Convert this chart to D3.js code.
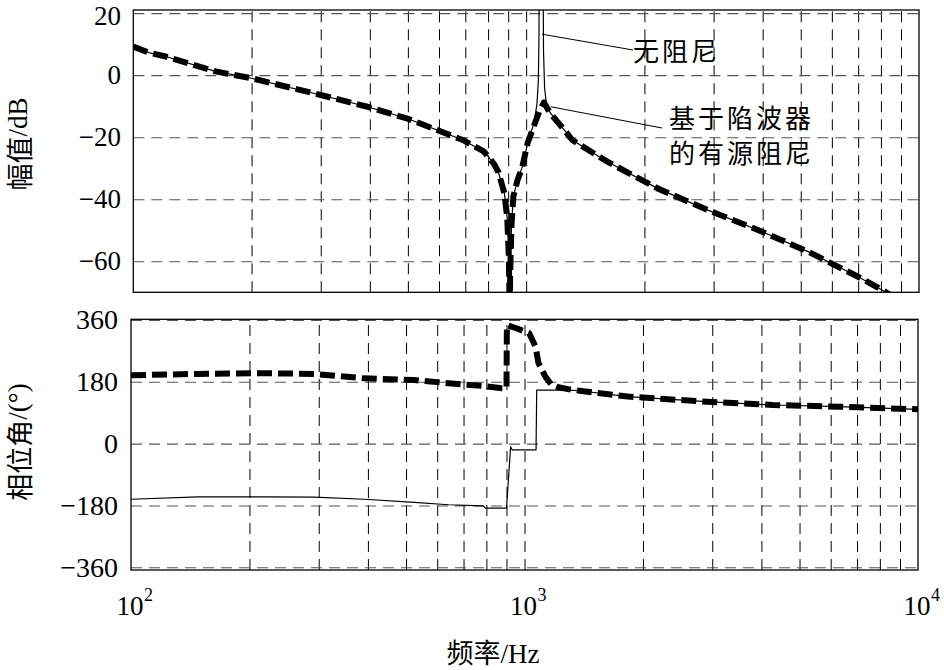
<!DOCTYPE html>
<html>
<head>
<meta charset="utf-8">
<script src="https://cdn.jsdelivr.net/npm/d3@7"></script>
<style>
  html, body { margin: 0; padding: 0; background: #fff; }
  svg { display: block; }
</style>
</head>
<body>
<svg id="chart" width="944" height="670"></svg>
<script>
// ---------------- DATA ----------------
// Magnitude, active damping based on notch filter (thick dashed)
const magDampedFreq = [100, 110, 121, 162, 200, 300, 392, 496, 591, 690, 780, 800, 830, 850, 880, 895, 903, 908, 912, 918, 928, 950, 978, 1009, 1045, 1084, 1110, 1150, 1172, 1270, 1310, 1610, 2160, 2900, 3890, 5220, 7000, 8200, 8600];
const magDampedDB   = [9.2, 7.2, 6.0, 1.2, -1.0, -6.4, -10.1, -13.9, -17.6, -20.9, -24.6, -26.2, -28.8, -31.3, -38, -46, -58, -75, -60, -48, -39, -34, -29.5, -21.8, -16.6, -11.2, -8.8, -12.2, -13.4, -18.7, -20.9, -27.9, -36.5, -43.5, -49.9, -56.9, -65, -69.8, -71.5];
// Magnitude, undamped (thin solid)
const magUndampedFreq = [100, 110, 121, 162, 200, 300, 392, 496, 591, 690, 780, 800, 830, 850, 880, 895, 903, 908, 912, 918, 928, 950, 978, 1009, 1045, 1065, 1074, 1078, 1080, 1104, 1107, 1114, 1125, 1150, 1172, 1270, 1310, 1610, 2160, 2900, 3890, 5220, 7000, 8200, 8600];
const magUndampedDB   = [9.2, 7.2, 6.0, 1.2, -1.0, -6.4, -10.1, -13.9, -17.6, -20.9, -24.6, -26.2, -28.8, -31.3, -38, -46, -58, -75, -60, -48, -39, -34, -29.5, -21.8, -15.8, -9.5, -2, 12, 40, 40, 8, -4, -9, -12, -13.4, -18.7, -20.9, -27.9, -36.5, -43.5, -49.9, -56.9, -65, -69.8, -71.5];

// Phase, active damping (thick dashed)
const phDampedFreq = [100, 148, 218, 292, 392, 525, 641, 780, 876, 900, 902, 953, 1027, 1067, 1085, 1130, 1170, 1220, 1300, 1380, 1830, 2900, 4270, 6300, 10000];
const phDampedDeg  = [199, 203, 205, 203, 190, 185, 176, 168, 161, 161, 345, 336, 322, 282, 235, 195, 172, 164, 158, 154, 137, 122, 112.5, 107.6, 100];
// Phase, undamped (thin solid)
const phUndampedFreq = [100, 148, 218, 292, 392, 525, 641, 785, 795, 900, 922, 930, 1070, 1074, 1200, 1300, 1380, 1830, 2900, 4270, 6300, 10000];
const phUndampedDeg  = [-162, -155, -155, -156, -162, -171, -178, -181, -188, -188, -9, -18, -18, 156, 156, 156, 154, 137, 122, 112.5, 107.6, 100];

// Tick values / labels
const magTicks = [20, 0, -20, -40, -60];
const phTicks = [360, 180, 0, -180, -360];
const decadeTicks = [100, 1000, 10000];
const decadeExp = ["2", "3", "4"];
const minorFreqs = [200,300,400,500,600,700,800,900,1000,2000,3000,4000,5000,6000,7000,8000,9000];

const labelMag = ["幅值", "/dB"];
const labelPh = ["相位角", "/(°)"];
const labelX = ["频率", "/Hz"];
const noteUndamped = "无阻尼";
const noteDamped = ["基于陷波器", "的有源阻尼"];

// ---------------- LAYOUT ----------------
const svg = d3.select("#chart");
const serif = "'Liberation Serif', 'Times New Roman', serif";
const cjk = "'Noto Sans CJK SC', sans-serif";

const boxTop = { x0: 133.3, x1: 919, y0: 10, y1: 292.3 };
const boxBot = { x0: 131, x1: 918, y0: 319.3, y1: 570 };

const xTop = d3.scaleLog().domain([100, 10000]).range([boxTop.x0, boxTop.x1]);
const xBot = d3.scaleLog().domain([100, 10000]).range([boxBot.x0, boxBot.x1]);
const yMag = d3.scaleLinear().domain([-70, 21]).range([boxTop.y1, boxTop.y0]);
const yPh = d3.scaleLinear().domain([-368, 362]).range([boxBot.y1, boxBot.y0]);

const defs = svg.append("defs");
defs.append("clipPath").attr("id", "clipTop").append("rect")
  .attr("x", boxTop.x0).attr("y", boxTop.y0).attr("width", boxTop.x1 - boxTop.x0).attr("height", boxTop.y1 - boxTop.y0);
defs.append("clipPath").attr("id", "clipBot").append("rect")
  .attr("x", boxBot.x0).attr("y", boxBot.y0).attr("width", boxBot.x1 - boxBot.x0).attr("height", boxBot.y1 - boxBot.y0);

function panel(box, x, y, yTicks, clipId, lines, labelRightX, labelSize) {
  const g = svg.append("g");
  // vertical grid (black dashed)
  g.append("g").attr("transform", `translate(0,${box.y1})`)
    .call(d3.axisBottom(x).tickValues(minorFreqs).tickSize(-(box.y1 - box.y0)).tickFormat(""))
    .call(s => s.select(".domain").remove())
    .call(s => s.selectAll(".tick line").attr("stroke", "#000").attr("stroke-width", 1).attr("stroke-dasharray", "11,7"));
  // horizontal grid (gray dashed)
  g.append("g").attr("transform", `translate(${box.x0},0)`)
    .call(d3.axisLeft(y).tickValues(yTicks).tickSize(-(box.x1 - box.x0)).tickFormat(""))
    .call(s => s.select(".domain").remove())
    .call(s => s.selectAll(".tick line").attr("stroke", "#555").attr("stroke-width", 1.1).attr("stroke-dasharray", "11,7"));
  // curves
  const lg = g.append("g").attr("clip-path", `url(#${clipId})`);
  lines.forEach(L => {
    const pts = L.f.map((f, i) => [f, L.v[i]]);
    lg.append("path").datum(pts)
      .attr("fill", "none").attr("stroke", "#000")
      .attr("stroke-width", L.w).attr("stroke-dasharray", L.dash || null)
      .attr("stroke-linejoin", "round")
      .attr("d", d3.line().x(d => x(d[0])).y(d => y(d[1])));
  });
  // box
  g.append("rect").attr("x", box.x0).attr("y", box.y0)
    .attr("width", box.x1 - box.x0).attr("height", box.y1 - box.y0)
    .attr("fill", "none").attr("stroke", "#000").attr("stroke-width", 1.3);
  // y tick labels
  g.append("g").attr("transform", `translate(${labelRightX},0)`)
    .call(d3.axisLeft(y).tickValues(yTicks).tickSize(0).tickPadding(0)
      .tickFormat(d => d < 0 ? "\u2212" + Math.abs(d) : String(d)))
    .call(s => s.select(".domain").remove())
    .call(s => s.selectAll("text").attr("font-family", serif).attr("font-size", labelSize).attr("fill", "#000")
      .attr("dy", d => (y(d) < 20 ? "0.42em" : "0.32em")));
  return g;
}

panel(boxTop, xTop, yMag, magTicks, "clipTop", [
  { f: magDampedFreq, v: magDampedDB, w: 6, dash: "15,6" },
  { f: magUndampedFreq, v: magUndampedDB, w: 1.2 }
], 121, 27);

panel(boxBot, xBot, yPh, phTicks, "clipBot", [
  { f: phDampedFreq, v: phDampedDeg, w: 6, dash: "15,6" },
  { f: phUndampedFreq, v: phUndampedDeg, w: 1.2 }
], 118, 28);

// x tick labels 10^n
decadeTicks.forEach((f, i) => {
  const cx = xBot(f);
  svg.append("text").attr("x", cx - 1).attr("y", 615)
    .attr("font-family", serif).attr("font-size", 27).attr("text-anchor", "middle").text("10");
  svg.append("text").attr("x", cx + 13).attr("y", 601)
    .attr("font-family", serif).attr("font-size", 18).text(decadeExp[i]);
});

// axis titles
function mixedLabel(parts, attrs) {
  const t = svg.append("text").attr("font-size", 27).attr("fill", "#000");
  Object.entries(attrs).forEach(([k, v]) => t.attr(k, v));
  t.append("tspan").attr("font-family", cjk).text(parts[0]);
  t.append("tspan").attr("font-family", serif).text(parts[1]);
  return t;
}
mixedLabel(labelX, { x: 493, y: 663, "text-anchor": "middle" });
mixedLabel(labelMag, { transform: "translate(18,144) rotate(-90)", "text-anchor": "middle", "dominant-baseline": "central" });
mixedLabel(labelPh, { transform: "translate(18,442) rotate(-90)", "text-anchor": "middle", "dominant-baseline": "central" });

// annotations
svg.append("line")
  .attr("x1", xTop(1098)).attr("y1", yMag(13.2)).attr("x2", 633).attr("y2", 50)
  .attr("stroke", "#000").attr("stroke-width", 1);
svg.append("text").attr("x", 633).attr("y", 49).attr("dominant-baseline", "central")
  .attr("font-family", cjk).attr("font-size", 26).attr("letter-spacing", 3).text(noteUndamped);

svg.append("line")
  .attr("x1", xTop(1156)).attr("y1", yMag(-10.2)).attr("x2", 662).attr("y2", 128)
  .attr("stroke", "#000").attr("stroke-width", 1);
svg.append("text").attr("x", 669).attr("y", 116).attr("dominant-baseline", "central")
  .attr("font-family", cjk).attr("font-size", 26).attr("letter-spacing", 3).text(noteDamped[0]);
svg.append("text").attr("x", 669).attr("y", 151).attr("dominant-baseline", "central")
  .attr("font-family", cjk).attr("font-size", 26).attr("letter-spacing", 3).text(noteDamped[1]);
</script>
</body>
</html>
